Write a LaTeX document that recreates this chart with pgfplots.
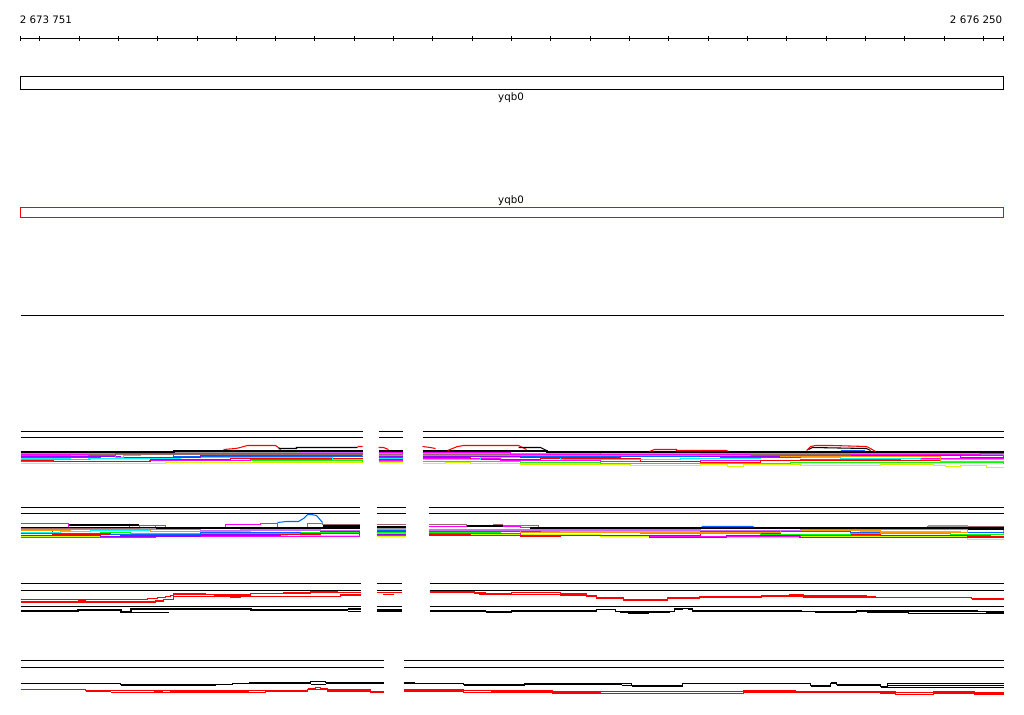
\documentclass[border=0pt]{standalone}
\usepackage{fontspec}
\setmainfont{DejaVu Sans}
\usepackage{pgfplots}
\pgfplotsset{compat=1.18}

\definecolor{cMag}{HTML}{FF00FF}
\definecolor{cPur}{HTML}{9900FF}
\definecolor{cLav}{HTML}{CC66FF}
\definecolor{cBlu}{HTML}{0066FF}
\definecolor{cCya}{HTML}{00FFFF}
\definecolor{cGrn}{HTML}{00FF00}
\definecolor{cYel}{HTML}{CCFF00}
\definecolor{cOrg}{HTML}{FF9900}
\definecolor{cRed}{HTML}{FF0000}
\definecolor{cGry}{HTML}{999999}
\definecolor{cBrn}{HTML}{996666}

\begin{document}
\begin{tikzpicture}
\begin{axis}[
    width=768pt, height=535.5pt, scale only axis,
    xmin=-0.5, xmax=1023.5, ymin=-0.5, ymax=713.5, y dir=reverse,
    hide axis, unbounded coords=jump,
    s/.style={const plot, line width=0.8pt},
    f/.style={const plot, line width=1.5pt},
    l/.style={sharp plot, line width=0.8pt},
  ]
% ruler (x in screen px; 2 673 751 at x=20, 2 676 250 at x=1003)
\addplot[l, black, mark=|, mark size=2pt, mark options={line width=0.8pt}] coordinates {
 (20,38) (39,38) (79,38) (118,38) (157,38) (197,38) (236,38) (275,38)
 (314,38) (354,38) (393,38) (432,38) (472,38) (511,38) (550,38) (590,38)
 (629,38) (668,38) (708,38) (747,38) (786,38) (826,38) (865,38) (904,38)
 (944,38) (983,38) (1003,38)};
% gene boxes
\addplot[l, black, line join=miter] coordinates {(500,76) (1003,76) (1003,89) (20,89) (20,76) (500,76)};
\addplot[l, cRed, line join=miter] coordinates {(500,207) (1003,207) (1003,217) (20,217) (20,207) (500,207)};
\addplot[l, black] coordinates {(20,315) (1003,315)};

% ---------------- track 1 ----------------
\addplot[l, black] coordinates {(20,431) (362,431) (370,nan) (378,431) (402,431) (412,nan) (422,431) (1003,431)};
\addplot[l, black] coordinates {(20,437) (362,437) (370,nan) (378,437) (402,437) (412,nan) (422,437) (1003,437)};
\addplot[s, cYel] coordinates {(20,463) (165,462) (225,462) (362,462) (370,nan) (378,462) (402,462) (412,nan)
 (422,463) (445,462) (470,463) (520,464) (580,464) (630,465) (700,464) (727,466) (743,464) (800,465) (880,464) (933,465) (945,466) (960,465) (986,467) (1003,467)};
\addplot[s, cGrn] coordinates {(20,459) (90,458) (180,460) (260,460) (362,461) (370,nan) (378,461) (402,461) (412,nan)
 (422,461) (520,462) (600,463) (700,463) (790,462) (900,462) (1003,463)};
\addplot[s, cMag] coordinates {(20,461) (149,460) (250,459) (362,459) (370,nan) (378,460) (402,460) (412,nan)
 (422,458) (500,460) (600,461) (700,460) (800,459) (900,458) (1003,459)};
\addplot[s, cRed] coordinates {(20,460) (53,461) (150,459) (230,458) (362,458) (370,nan) (378,459) (402,459) (412,nan)
 (422,457) (470,459) (540,458) (640,461) (700,462) (760,460) (850,460) (940,461) (1003,460)};
\addplot[s, cCya] coordinates {(20,458) (70,456) (88,458) (180,457) (332,459) (362,459) (370,nan) (378,458) (402,458) (412,nan)
 (422,459) (480,457) (560,459) (680,458) (760,457) (840,458) (920,459) (1003,458)};
\addplot[s, cBlu] coordinates {(20,457) (100,454) (173,456) (260,456) (362,456) (370,nan) (378,457) (402,457) (412,nan)
 (422,455) (520,456) (640,456) (720,457) (800,456) (930,455) (1003,456)};
\addplot[s, cPur] coordinates {(20,456) (120,457) (200,455) (300,455) (362,455) (370,nan) (378,456) (402,456) (412,nan)
 (422,456) (520,457) (620,455) (700,456) (830,455) (960,457) (1003,457)};
\addplot[s, cOrg] coordinates {(20,455) (115,457) (123,455) (140,452) (173,454) (300,454) (362,455) (370,nan) (378,455) (402,455) (412,nan)
 (422,454) (480,455) (560,453) (700,455) (780,456) (900,456) (940,461) (1003,461)};
\addplot[s, cGry] coordinates {(20,452) (140,453) (173,452) (362,453) (370,nan) (378,453) (402,453) (412,nan)
 (422,453) (500,453) (600,454) (750,453) (900,453) (1003,453)};
\addplot[s, cBrn] coordinates {(20,455) (43,455) (70,454) (250,454) (362,454) (370,nan) (378,454) (402,454) (412,nan)
 (422,454) (600,452) (700,454) (850,452) (1003,455)};
\addplot[s, cLav] coordinates {(20,453) (200,453) (300,452) (362,453) (370,nan) (378,455) (402,455) (412,nan)
 (422,455) (560,455) (700,453) (850,454) (1003,454)};
\addplot[s, cMag] coordinates {(20,454) (88,455) (115,453) (230,453) (362,452) (370,nan) (378,452) (402,453) (412,nan)
 (422,452) (510,454) (620,454) (750,455) (850,454) (980,453) (1003,453)};
\addplot[f, black] coordinates {(20,451) (173,450.5) (362,450.5) (370,nan) (378,450) (402,450) (412,nan)
 (422,450) (546,451.5) (1003,451.5)};
\addplot[l, cRed] coordinates {(223,449) (235,448) (240,447) (243,446) (247,445) (275,445) (278,447) (280,449) (300,nan)
 (357,446) (362,446) (370,nan) (378,447) (383,447) (388,449) (412,nan)
 (422,446) (430,447) (435,448) (440,nan) (447,450) (452,448) (457,446) (463,445) (518,445) (522,447) (526,449) (600,nan)
 (649,451) (654,449) (676,449) (676,450) (726,450) (728,451) (780,nan)
 (806,450) (810,446) (815,445) (832,445) (866,446) (870,448) (875,451)};
\addplot[l, black] coordinates {(278,448) (296,448) (296,447) (357,447) (360,nan)
 (518,447) (540,447) (546,450) (600,nan) (808,449) (812,447) (866,448) (870,450)};
\addplot[l, cBlu] coordinates {(840,450) (864,450)};

% ---------------- track 2 ----------------
\addplot[l, black] coordinates {(20,507) (359,507) (367,nan) (376,507) (405,507) (416,nan) (428,507) (1003,507)};
\addplot[l, black] coordinates {(20,513) (359,513) (367,nan) (376,513) (405,513) (416,nan) (428,513) (1003,513)};
\addplot[s, cYel] coordinates {(20,536) (177,535) (287,536) (300,535) (359,535) (367,nan) (376,536) (405,536) (416,nan)
 (428,534) (600,536) (700,537) (800,536) (967,539) (1003,539)};
\addplot[s, cMag] coordinates {(20,537) (155,536) (240,536) (359,534) (367,nan) (376,535) (405,535) (416,nan)
 (428,533) (520,535) (650,536) (730,536) (800,535) (900,535) (990,536) (1003,536)};
\addplot[s, cPur] coordinates {(20,535) (100,536) (200,534) (300,533) (359,534) (367,nan) (376,534) (405,534) (416,nan)
 (428,535) (649,537) (726,535) (799,537) (1003,537)};
\addplot[s, cRed] coordinates {(20,530) (52,534) (120,535) (210,535) (280,534) (320,531) (359,533) (367,nan) (376,531) (405,531) (416,nan)
 (428,534) (470,535) (520,536) (560,535) (700,533) (780,534) (880,535) (967,536) (1003,536)};
\addplot[s, cGrn] coordinates {(20,533) (100,532) (130,533) (226,533) (300,532) (359,531) (367,nan) (376,532) (405,532) (416,nan)
 (428,532) (500,531) (640,533) (760,534) (850,533) (950,534) (1003,534)};
\addplot[s, cCya] coordinates {(20,532) (60,531) (90,530) (150,531) (250,530) (359,532) (367,nan) (376,533) (405,533) (416,nan)
 (428,529) (480,530) (560,531) (700,530) (860,531) (960,532) (1003,533)};
\addplot[s, cBlu] coordinates {(20,533) (110,534) (200,532) (300,533) (359,530) (367,nan) (376,530) (405,530) (416,nan)
 (428,531) (540,530) (620,529) (700,531) (850,532) (1003,532)};
\addplot[s, cOrg] coordinates {(20,530) (70,529) (150,531) (240,529) (320,530) (359,530) (367,nan) (376,529) (405,529) (416,nan)
 (428,530) (520,532) (620,532) (700,532) (780,530) (880,532) (967,529) (1003,529)};
\addplot[s, cGry] coordinates {(20,528) (150,528) (359,528) (367,nan) (376,528) (405,528) (416,nan) (428,529) (700,528) (1003,530)};
\addplot[s, cLav] coordinates {(20,529) (100,529) (200,530) (359,529) (367,nan) (428,530) (600,530) (800,529) (1003,531)};
\addplot[s, cBrn] coordinates {(20,528) (139,525) (155,527) (307,523) (322,524) (359,524) (367,nan) (376,524) (405,524) (416,nan)
 (428,524) (466,525) (493,524) (502,525) (538,527) (927,526) (967,526) (1003,527)};
\addplot[s, cMag] coordinates {(20,523) (68,527) (129,525) (165,527) (225,524) (260,523) (277,527) (359,527) (367,nan) (376,527) (405,527) (416,nan)
 (428,526) (480,526) (520,527) (1003,528)};
\addplot[s, black] coordinates {(20,527) (155,527) (160,nan) (68,524.5) (138,524.5) (145,nan) (322,525.5) (359,525.5) (367,nan)
 (466,525.5) (502,525.5)};
\addplot[f, black] coordinates {(155,527) (359,527) (367,nan) (376,526) (405,526) (416,nan) (529,527) (1003,527) (1003,nan) (967,528) (1003,528)};
\addplot[l, cBlu] coordinates {(277,522) (286,521) (298,521) (303,518) (307,514) (311,514) (316,515) (322,522) (400,nan) (701,526) (753,526)};
\addplot[l, cGry] coordinates {(927,525.5) (967,525.5)};

% ---------------- track 3 ----------------
\addplot[l, black] coordinates {(20,583) (360,583) (368,nan) (376,583) (401,583) (415,nan) (429,583) (1003,583)};
\addplot[l, black] coordinates {(20,590) (360,590) (368,nan) (376,590) (401,590) (415,nan) (429,590) (1003,590)};
\addplot[s, cRed] coordinates {(20,599) (147,598) (157,597) (165,596) (170,595) (173,593.5) (205,594) (250,593) (283,592.5) (310,591) (337,592) (360,592) (368,nan)
 (376,592.3) (401,592.3) (415,nan)
 (429,590.7) (447,591.5) (474,592.3) (479,593.5) (485,593.5) (511,592.3) (560,593.5) (586,595) (596,597) (623,599) (667,597) (674,597) (699,595.7) (761,595) (789,594.5) (803,595.5) (866,596.5) (875,597) (971,598) (992,598.5) (1003,598.5)};
\addplot[s, cRed] coordinates {(20,601.5) (155,600.5) (163,599) (173,596.3) (213,596) (230,597) (240,596) (340,594.5) (360,594.5) (368,nan)
 (382,594) (393,594) (415,nan)
 (429,591.5) (447,592) (474,592.5) (485,594) (511,594) (560,594.5) (586,595.5) (596,598) (623,600) (667,598) (699,596.5) (761,596) (803,596.5) (866,597) (971,598) (1003,598.5)};
\addplot[f, cRed] coordinates {(77,600.3) (85,600.3) (90,nan) (213,595) (250,595) (260,nan) (310,591.5) (337,591.5) (340,nan)
 (447,591.3) (474,591.3) (480,nan) (560,594.5) (586,594.5) (590,nan) (623,599) (667,599) (670,nan) (674,597) (699,597) (699,nan)
 (699,596) (761,596) (780,nan) (803,596.3) (866,596.3) (900,nan) (971,598) (992,598)};
\addplot[l, black] coordinates {(20,606) (360,606) (368,nan) (376,606) (401,606) (415,nan) (429,606) (1003,606)};
\addplot[f, black] coordinates {(20,610) (77,609.7) (120,611) (130,608.8) (173,608.8) (250,609.5) (347,609.5) (350,nan)
 (376,609.7) (401,609.7) (410,nan) (429,610.5) (485,610.5) (490,nan) (511,610.5) (596,610.5) (600,nan) (856,610) (866,610) (900,nan) (985,612) (1003,612)};
\addplot[f, black, line width=1pt] coordinates {(376,611) (401,611)};
\addplot[s, black] coordinates {(128,612.3) (168,612.3) (170,nan) (347,608.5) (360,608.5) (361,nan) (347,611) (360,611) (365,nan)
 (429,610) (485,611) (511,610.5) (596,609) (615,611) (669,611) (674,608.5) (682,607.8) (688,608.5) (692,610.5) (801,611) (814,611) (856,610) (866,610.5) (977,611) (1003,611)};
\addplot[s, black] coordinates {(485,611.5) (511,611.5) (515,nan) (619,612.3) (669,612.3) (670,nan) (627,613.3) (648,613.3) (650,nan)
 (814,611.7) (856,611.7) (860,nan) (866,611.7) (908,612.7) (977,612.7) (985,612.7)};

% ---------------- track 4 ----------------
\addplot[l, black] coordinates {(20,660) (383,660) (393,nan) (403,660) (1003,660)};
\addplot[l, black] coordinates {(20,667) (383,667) (393,nan) (403,667) (1003,667)};
\addplot[s, black] coordinates {(20,683.3) (120,684) (215,684) (232,682.8) (249,682.3) (310,681) (325,682.3) (383,682.3) (393,nan)
 (403,682.3) (414,683) (463,684) (524,683.5) (621,683.3) (631,685) (682,683.3) (810,685) (830,683) (836,684) (880,686) (887,683.3) (1003,683.3)};
\addplot[f, black] coordinates {(120,684) (215,684) (220,nan) (249,682.3) (310,682.3) (312,nan) (325,682.3) (383,682.3) (393,nan)
 (403,682) (414,682) (420,nan) (463,684) (524,684) (530,nan) (631,685) (682,685) (700,nan) (810,685) (830,685) (833,nan) (836,684.3) (880,684.3) (882,nan) (880,686) (887,686)};
\addplot[s, black] coordinates {(310,683.7) (325,683.7) (330,nan) (887,685) (1003,685) (1003,nan) (887,687.3) (1003,687.3) (1003,nan)
 (830,682.3) (836,682.3) (840,nan) (621,684.7) (631,684.7)};
\addplot[s, cRed] coordinates {(20,689.3) (85,690) (110,689.7) (153,689.7) (223,690) (248,689.7) (265,690.3) (307,689) (327,689.5) (370,691) (378,691.5) (383,691.5) (393,nan)
 (403,689.3) (463,690) (491,690.5) (552,691) (570,690.7) (735,690.7) (743,690) (795,690.7) (880,691) (895,692) (931,692) (933,691) (952,691.5) (974,692) (1003,692)};
\addplot[s, cRed] coordinates {(110,691.7) (153,691.7) (170,691.5) (223,691.5) (248,691.7) (265,690.7) (307,689.3) (327,690.5) (370,691.7) (383,692.5) (393,nan)
 (403,691) (463,692.3) (491,691.5) (552,692.5) (570,693) (735,693) (743,691.5) (795,692) (880,692.5) (895,694) (931,694) (933,692.5) (974,693.5) (1003,693.5)};
\addplot[f, cRed] coordinates {(85,690) (110,690) (115,nan) (153,690.7) (162,690.7) (165,nan) (173,690) (182,690) (185,nan) (223,690.7) (248,690.7) (250,nan)
 (265,690.3) (307,690.3) (310,nan) (327,690) (370,690) (372,nan) (378,691) (383,691) (393,nan)
 (403,690) (463,690) (470,nan) (491,690.7) (552,690.7) (560,nan) (570,691.5) (600,691.5) (610,nan) (743,690.5) (795,690.5) (800,nan) (795,691.3) (880,691.3)};
\addplot[l, cRed] coordinates {(307,688) (315,688) (315,687) (320,687) (320,688) (327,688)};

\node[anchor=west, inner sep=0pt, font=\fontsize{7.7}{9}\selectfont] at (axis cs:19,19.5) {2 673 751};
\node[anchor=east, inner sep=0pt, font=\fontsize{7.7}{9}\selectfont] at (axis cs:1002,19.5) {2 676 250};
\node[inner sep=0pt, font=\fontsize{7.7}{9}\selectfont] at (axis cs:510.5,97.5) {yqb0};
\node[inner sep=0pt, font=\fontsize{7.7}{9}\selectfont] at (axis cs:510.5,200) {yqb0};
\end{axis}
\pgfresetboundingbox
\path (current axis.south west) rectangle (current axis.north east);
\end{tikzpicture}
\end{document}
